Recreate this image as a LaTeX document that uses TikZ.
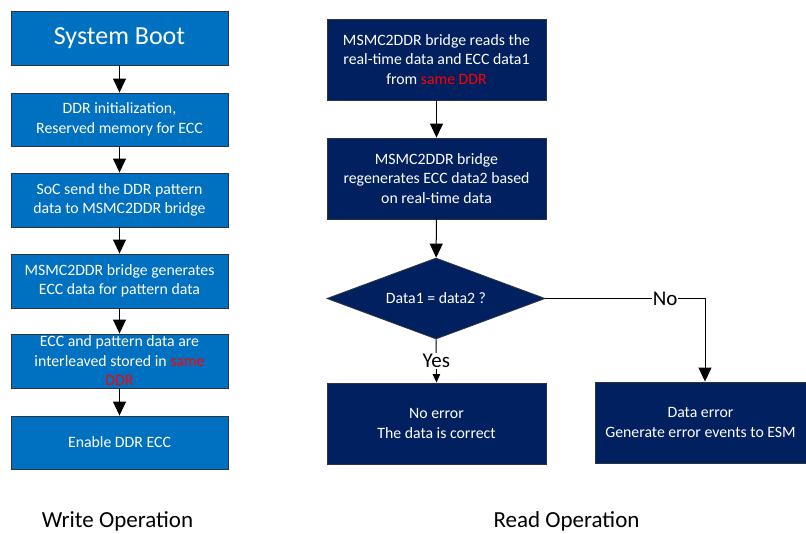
\documentclass[tikz,border=0pt]{standalone}
\usepackage{fontspec}
\setmainfont{Carlito}
\usetikzlibrary{shapes.geometric,arrows.meta}
\definecolor{wblue}{HTML}{0070C0}
\definecolor{rnavy}{HTML}{002060}
\definecolor{edgec}{HTML}{2B3440}
\definecolor{hot}{HTML}{FF0000}
\tikzset{
  x=1pt, y=-1pt,
  wbox/.style={draw=edgec, line width=0.9pt, fill=wblue, text=white,
    minimum width=217pt, inner sep=0pt, align=center,
    font=\fontsize{15.8}{19.5}\selectfont},
  rbox/.style={draw=edgec, line width=0.9pt, fill=rnavy, text=white,
    minimum height=81pt, inner sep=0pt, align=center,
    font=\fontsize{15.8}{19.5}\selectfont},
  flow/.style={line width=1pt, -{Triangle[width=13pt,length=14pt]}},
  smallflow/.style={line width=1pt, -{Triangle[width=7.5pt,length=8.5pt]}},
  branch/.style={font=\fontsize{21}{24}\selectfont, fill=white, inner sep=1pt},
  caption/.style={font=\fontsize{23}{26}\selectfont, anchor=base},
}
\begin{document}
\begin{tikzpicture}
\useasboundingbox (0,0) rectangle (806,533);

% write path
\node[wbox, minimum height=54pt, font=\fontsize{26}{30}\selectfont] (w1) at (119.5,38) {System Boot};
\node[wbox, minimum height=53pt] (w2) at (119.5,119.5) {DDR initialization,\\Reserved memory for ECC};
\node[wbox, minimum height=54pt] (w3) at (119.5,200) {SoC send the DDR pattern\\data to MSMC2DDR bridge};
\node[wbox, minimum height=54pt] (w4) at (119.5,281) {MSMC2DDR bridge generates\\ECC data for pattern data};
\node[wbox, minimum height=54pt] (w5) at (119.5,361) {ECC and pattern data are\\interleaved stored in \textcolor{hot}{same}\\\textcolor{hot}{DDR}};
\node[wbox, minimum height=53pt] (w6) at (119.5,442.5) {Enable DDR ECC};

\draw[flow] (w1) -- (w2);
\draw[flow] (w2) -- (w3);
\draw[flow] (w3) -- (w4);
\draw[flow] (w4) -- (w5);
\draw[flow] (w5) -- (w6);

% read path
\node[rbox, minimum width=219pt] (r1) at (436.5,59.5) {MSMC2DDR bridge reads the\\real-time data and ECC data1\\from \textcolor{hot}{same DDR}};
\node[rbox, minimum width=219pt] (r2) at (436.5,178.5) {MSMC2DDR bridge\\regenerates ECC data2 based\\on real-time data};
\node[diamond, aspect=2.7, draw=edgec, line width=0.9pt, fill=rnavy, text=white,
      minimum width=218pt, minimum height=81pt, inner sep=0pt,
      font=\fontsize{15.8}{19.5}\selectfont] (chk) at (436,298.5) {Data1 = data2 ?};
\node[rbox, minimum width=219pt] (ok) at (436.5,423.5) {No error\\The data is correct};
\node[rbox, minimum width=211pt] (bad) at (700.5,422.5) {Data error\\Generate error events to ESM};

\draw[flow] (r1) -- (r2);
\draw[flow] (r2) -- (chk);
\draw[smallflow] (chk.south) -- node[branch] {Yes} (ok.north);
\coordinate (turn) at (705,298.5);
\draw[flow] (chk.east) -- node[branch, pos=0.75] {No} (turn) -- (turn |- bad.north);

% captions
\node[caption] (wcap) at (117.5,527.5) {Write Operation};
\node[caption] (rcap) at (566.5,527.5) {Read Operation};
\end{tikzpicture}
\end{document}
